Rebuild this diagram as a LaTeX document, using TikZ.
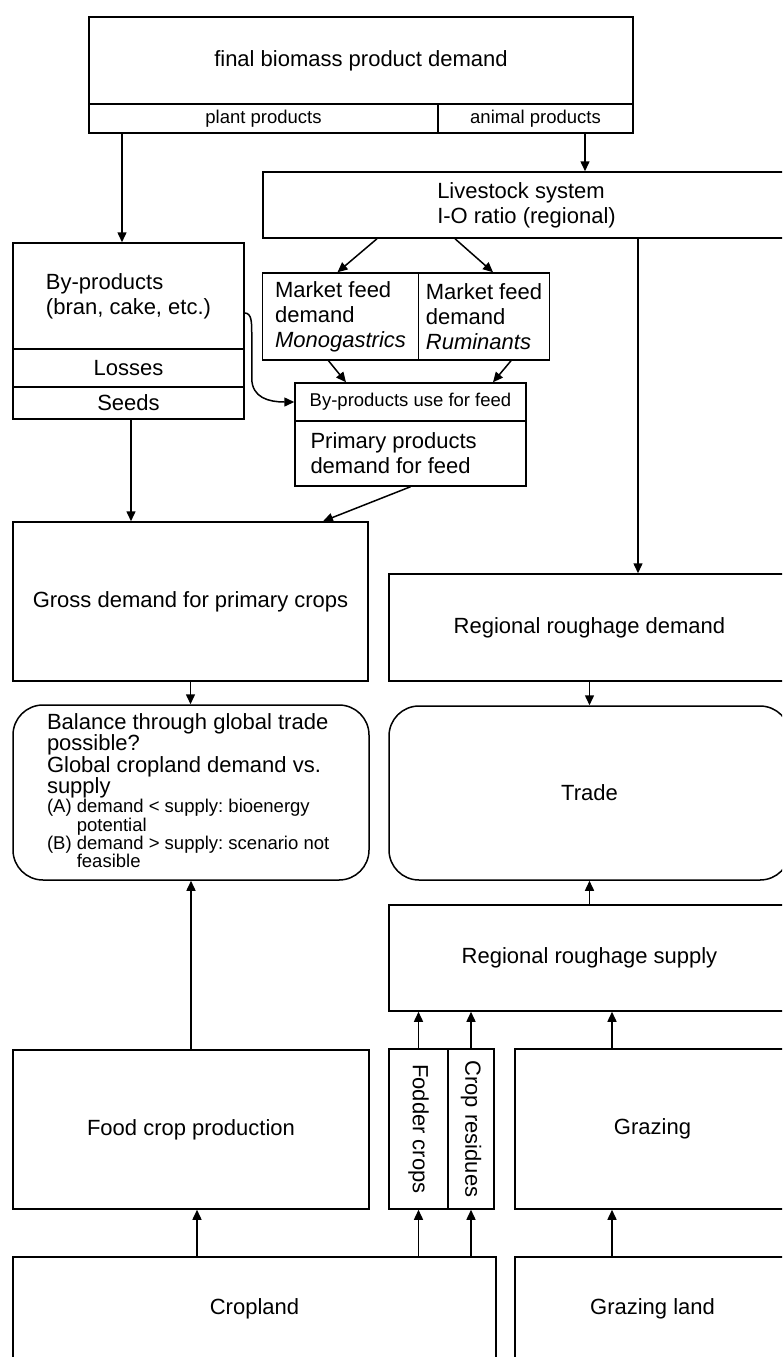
\documentclass[tikz,border=0pt]{standalone}
\usepackage{fontspec}
\setmainfont{Liberation Sans}
\usetikzlibrary{arrows.meta}

\begin{document}
\begin{tikzpicture}[x=1pt,y=-1pt,>={Triangle[length=10pt,width=9pt]},line width=1.5pt,
    box/.style={draw,rectangle,inner sep=0pt,align=center,font=\fontsize{22}{25}\selectfont\frenchspacing},
    small box/.style={box,font=\fontsize{18.5}{21}\selectfont\frenchspacing},
    round box/.style={box,rounded corners=30pt}]
    \path[use as bounding box,clip] (0,0) rectangle (782,1357);

    \node[box,minimum width=544pt,minimum height=87pt] (final) at (361,60.5) {final biomass product demand};
    \node[small box,minimum width=349pt,minimum height=29pt] (plant) at (263.5,118.5) {plant products};
    \node[small box,minimum width=195pt,minimum height=29pt] (animal) at (535.5,118.5) {animal products};
    \node[box,minimum width=527pt,minimum height=66pt,align=left] (live) at (526.5,205) {Livestock system\\I-O ratio (regional)};

    \node[box,minimum width=231pt,minimum height=106pt,align=left] (byprod) at (128.5,296) {By-products\\(bran, cake, etc.)};
    \node[box,minimum width=231pt,minimum height=38pt] (losses) at (128.5,368) {Losses};
    \node[box,minimum width=231pt,minimum height=32pt] (seeds) at (128.5,403) {Seeds};

    \node[box,minimum width=156pt,minimum height=87pt,align=left] (mono) at (340.5,316.5) {Market feed\\demand\\\textit{Monogastrics}};
    \node[box,minimum width=131pt,minimum height=87pt,align=left] (rum) at (484,316.5) {Market feed\\demand\\\textit{Ruminants}};
    \node[small box,minimum width=231pt,minimum height=38pt] (feedby) at (410.5,402) {By-products use for feed};
    \node[box,minimum width=231pt,minimum height=65pt,text width=200pt,align=flush left] (feedprim) at (410.5,453.5) {Primary products\\demand for feed};

    \node[box,minimum width=355pt,minimum height=159pt] (gross) at (190.5,601.5) {Gross demand for primary crops};
    \node[box,minimum width=401pt,minimum height=107pt] (rdem) at (589.5,627.5) {Regional roughage demand};

    \node[round box,minimum width=356pt,minimum height=175pt,text width=288pt,align=flush left] (balance) at (191,792.5)
        {{\fontsize{22}{19.5}\selectfont Balance through global trade\\possible?\\Global cropland demand vs.\\supply\par}
         {\fontsize{18.5}{16.7}\selectfont \mbox{(A) demand < supply: bioenergy}\\\phantom{(A)} potential\\\mbox{(B) demand > supply: scenario not}\\\phantom{(B)} feasible\par}};
    \node[round box,minimum width=401pt,minimum height=174pt] (trade) at (589.5,793) {Trade};
    \node[box,minimum width=401pt,minimum height=106pt] (rsup) at (589.5,958) {Regional roughage supply};

    \node[box,minimum width=356pt,minimum height=159pt] (food) at (191,1129.5) {Food crop production};
    \node[box,minimum width=59pt,minimum height=160pt] (fodder) at (418.5,1129) {\rotatebox{-90}{Fodder crops}};
    \node[box,minimum width=46pt,minimum height=160pt] (resid) at (471,1129) {\rotatebox{-90}{Crop residues}};
    \node[box,minimum width=275pt,minimum height=160pt] (graz) at (652.5,1129) {Grazing};
    \node[box,minimum width=483pt,minimum height=104pt] (crop) at (254.5,1309) {Cropland};
    \node[box,minimum width=275pt,minimum height=104pt] (gland) at (652.5,1309) {Grazing land};

    % demand side
    \draw[->] ([xshift=-6.5pt]plant.south -| byprod.north) -- ([xshift=-6.5pt]byprod.north);
    \draw[->] ([xshift=49.5pt]animal.south) -- ([xshift=49.5pt]animal.south |- live.north);
    \draw[->] ([xshift=-149.5pt]live.south) -- ([xshift=-3pt]mono.north);
    \draw[->] ([xshift=-71.5pt]live.south) -- ([xshift=9pt]rum.north);
    \draw[->] ([xshift=111.5pt]live.south) -- ([xshift=111.5pt]live.south |- rdem.north);
    \draw[->] ([xshift=-12pt]mono.south) -- ([xshift=-64.5pt]feedby.north);
    \draw[->] ([xshift=27pt]rum.south) -- ([xshift=82.5pt]feedby.north);
    \draw[->] ([yshift=-17pt]byprod.east) .. controls +(7,0) and +(0,-10) .. ++(7,20) -- ++(0,45)
        .. controls +(0,20) and +(-25,0) .. (feedby.west);
    \draw[->] ([xshift=2.5pt]seeds.south) -- ([xshift=2.5pt]seeds.south |- gross.north);
    \draw[->] (feedprim.south) -- ([xshift=132.5pt]gross.north);
    \draw[->] (gross.south) -- (gross.south |- balance.north);
    \draw[->] (rdem.south) -- (trade.north);

    % supply side
    \draw[->] (rsup.north) -- (trade.south);
    \draw[->] (food.north) -- (food.north |- balance.south);
    \draw[->] (fodder.north) -- (fodder.north |- rsup.south);
    \draw[->] (resid.north) -- (resid.north |- rsup.south);
    \draw[->] ([xshift=-40.5pt]graz.north) -- ([xshift=-40.5pt]graz.north |- rsup.south);
    \draw[->] ([xshift=-57.5pt]crop.north) -- ([xshift=-57.5pt]crop.north |- food.south);
    \draw[->] (fodder.south |- crop.north) -- (fodder.south);
    \draw[->] (resid.south |- crop.north) -- (resid.south);
    \draw[->] ([xshift=-40.5pt]gland.north) -- ([xshift=-40.5pt]graz.south);
\end{tikzpicture}
\end{document}
